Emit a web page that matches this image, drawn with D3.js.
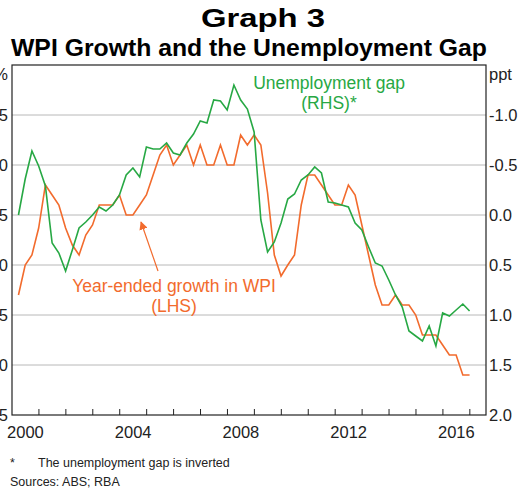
<!DOCTYPE html>
<html><head><meta charset="utf-8">
<script src="https://cdn.jsdelivr.net/npm/d3@7"></script>
<style>body{margin:0;background:#fff;font-family:Arial,"Liberation Sans",sans-serif}</style>
</head><body><div id="chart"></div>
<script>
// ── DATA ─────────────────────────────────────
// quarterly, starting 2000 Q1
const wpi = [2.7,3.0,3.1,3.37,3.8,3.7,3.6,3.37,3.2,3.1,3.3,3.4,3.6,3.6,3.6,3.7,3.5,3.5,3.6,3.7,
  3.9,4.1,4.2,4.0,4.1,4.2,4.0,4.2,4.0,4.0,4.2,4.0,4.0,4.3,4.2,4.3,4.2,3.72,3.1,2.89,
  3.0,3.1,3.6,3.9,3.9,3.8,3.7,3.6,3.6,3.8,3.7,3.4,3.1,2.8,2.6,2.6,2.7,2.6,2.6,2.5,
  2.3,2.3,2.3,2.2,2.1,2.1,1.9,1.9];
const gap = [0.0,-0.36,-0.64,-0.49,-0.29,0.28,0.38,0.56,0.35,0.13,0.07,0.0,-0.08,-0.04,-0.1,-0.2,-0.4,-0.47,-0.38,-0.68,
  -0.66,-0.66,-0.72,-0.62,-0.6,-0.72,-0.81,-0.94,-0.92,-1.15,-1.14,-1.05,-1.3,-1.15,-1.06,-0.83,0.05,0.37,0.27,0.08,
  -0.16,-0.21,-0.35,-0.4,-0.48,-0.42,-0.13,-0.12,-0.1,-0.08,0.08,0.15,0.32,0.48,0.51,0.65,0.8,0.92,1.16,1.21,
  1.26,1.11,1.31,0.98,1.01,0.95,0.89,0.96];
const leftTicks = [1.5,2.0,2.5,3.0,3.5,4.0,4.5];
const rightTicks = [-1.0,-0.5,0.0,0.5,1.0,1.5,2.0];
const yearLabels = [2000,2004,2008,2012,2016];

const ORANGE = '#f26b2d', GREEN = '#27a844';
const W = 532, H = 491;
const M = { t: 65, l: 12, r: 46, b: 76 };
const FS = 16.5;

const svg = d3.select('#chart').append('svg').attr('width', W).attr('height', H);

const x = d3.scaleLinear().domain([2000, 2017.6]).range([M.l, W - M.r]);
const yL = d3.scaleLinear().domain([1.5, 5.0]).range([H - M.b, M.t]);
const yR = d3.scaleLinear().domain([2.0, -1.5]).range([H - M.b, M.t]);
const tq = i => 2000 + 0.25 * (i + 1) - 0.01;

// ── titles
svg.append('text').attr('x', 263).attr('y', 27).attr('text-anchor', 'middle')
  .attr('font-size', 25).attr('font-weight', 'bold')
  .attr('textLength', 124).attr('lengthAdjust', 'spacingAndGlyphs').text('Graph 3');
svg.append('text').attr('x', 249).attr('y', 56).attr('text-anchor', 'middle')
  .attr('font-size', 23).attr('font-weight', 'bold')
  .attr('textLength', 476).attr('lengthAdjust', 'spacingAndGlyphs')
  .text('WPI Growth and the Unemployment Gap');

// ── grid
svg.append('g').selectAll('line').data(leftTicks.slice(1)).join('line')
  .attr('x1', M.l).attr('x2', W - M.r).attr('y1', d => yL(d)).attr('y2', d => yL(d))
  .attr('stroke', '#b8b8b8').attr('stroke-width', 1);

// ── axes labels
svg.append('g').selectAll('text').data(leftTicks).join('text')
  .attr('x', 8).attr('y', d => yL(d) + 6).attr('text-anchor', 'end')
  .attr('font-size', FS).attr('fill', '#222').text(d => d.toFixed(1));
svg.append('text').attr('x', 8).attr('y', 80).attr('text-anchor', 'end')
  .attr('font-size', FS).attr('fill', '#222').text('%');
svg.append('g').selectAll('text').data(rightTicks).join('text')
  .attr('x', W - M.r + 3).attr('y', d => yR(d) + 6)
  .attr('font-size', FS).attr('fill', '#222').text(d => d.toFixed(1));
svg.append('text').attr('x', W - M.r + 3).attr('y', 80)
  .attr('font-size', FS).attr('fill', '#222').text('ppt');

const years = d3.range(2001, 2018);
svg.append('g').selectAll('line').data(years).join('line')
  .attr('x1', d => x(d)).attr('x2', d => x(d))
  .attr('y1', H - M.b).attr('y2', H - M.b - 6).attr('stroke', '#222');
svg.append('g').selectAll('text').data(yearLabels).join('text')
  .attr('x', d => x(d + 0.5)).attr('y', H - M.b + 23).attr('text-anchor', 'middle')
  .attr('font-size', FS).attr('fill', '#222').text(d => d);

// ── lines
const lineL = d3.line().x((d, i) => x(tq(i))).y(d => yL(d));
const lineR = d3.line().x((d, i) => x(tq(i))).y(d => yR(d));
svg.append('path').datum(wpi).attr('d', lineL).attr('fill', 'none')
  .attr('stroke', ORANGE).attr('stroke-width', 1.6);
svg.append('path').datum(gap).attr('d', lineR).attr('fill', 'none')
  .attr('stroke', GREEN).attr('stroke-width', 1.6);

// ── frame
svg.append('rect').attr('x', M.l).attr('y', M.t).attr('width', W - M.l - M.r)
  .attr('height', H - M.t - M.b).attr('fill', 'none').attr('stroke', '#222').attr('stroke-width', 1.2);

// ── annotations
svg.append('defs').append('marker').attr('id', 'ah').attr('viewBox', '0 0 10 10')
  .attr('refX', 9).attr('refY', 5).attr('markerWidth', 7).attr('markerHeight', 7)
  .attr('orient', 'auto').append('path').attr('d', 'M0,0L10,5L0,10z').attr('fill', ORANGE);
svg.append('line').attr('x1', 158).attr('y1', 271).attr('x2', 141).attr('y2', 222)
  .attr('stroke', ORANGE).attr('stroke-width', 1.2).attr('marker-end', 'url(#ah)');
svg.append('text').attr('x', 174).attr('y', 292).attr('text-anchor', 'middle')
  .attr('font-size', 17.5).attr('fill', ORANGE).text('Year-ended growth in WPI');
svg.append('text').attr('x', 174).attr('y', 312).attr('text-anchor', 'middle')
  .attr('font-size', 17.5).attr('fill', ORANGE).text('(LHS)');
svg.append('text').attr('x', 329).attr('y', 89).attr('text-anchor', 'middle')
  .attr('font-size', 17.5).attr('fill', GREEN).text('Unemployment gap');
svg.append('text').attr('x', 329).attr('y', 109).attr('text-anchor', 'middle')
  .attr('font-size', 17.5).attr('fill', GREEN).text('(RHS)*');

// ── footnotes
svg.append('text').attr('x', 10).attr('y', 467).attr('font-size', 12.5).attr('fill', '#222').text('*');
svg.append('text').attr('x', 38).attr('y', 467).attr('font-size', 12.5).attr('fill', '#222')
  .text('The unemployment gap is inverted');
svg.append('text').attr('x', 10).attr('y', 486).attr('font-size', 12.5).attr('fill', '#222')
  .text('Sources: ABS; RBA');
</script></body></html>
